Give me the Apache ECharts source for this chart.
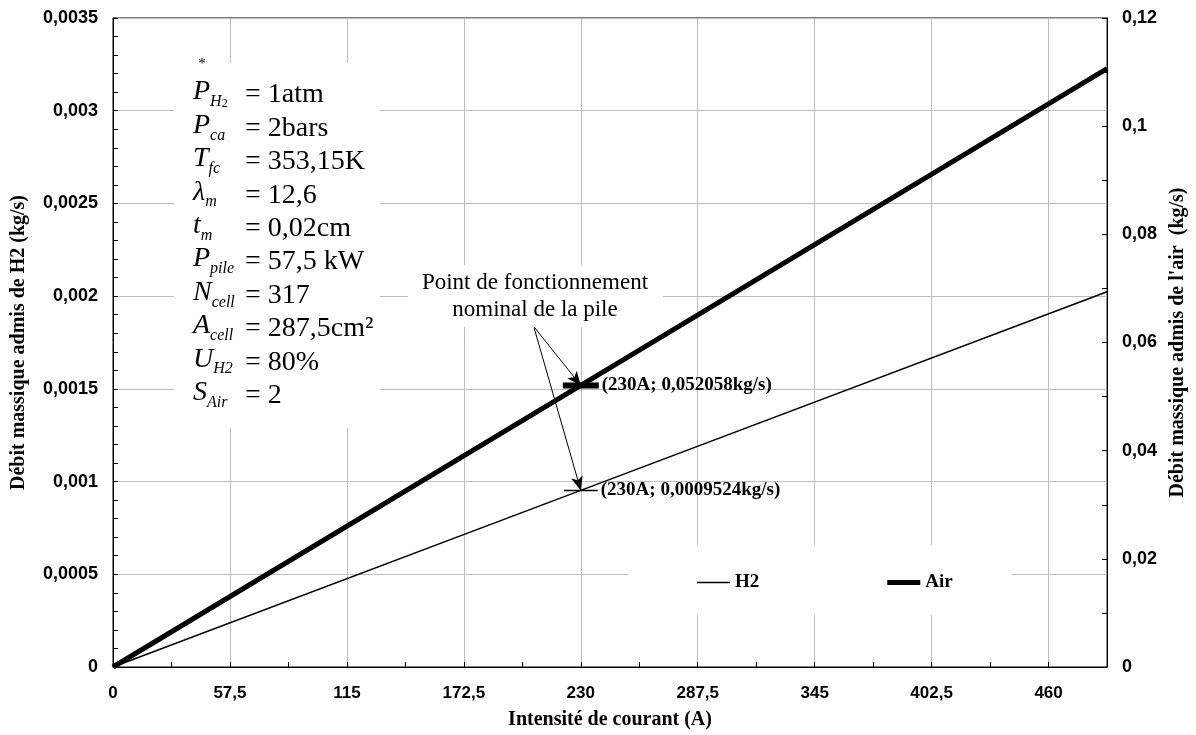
<!DOCTYPE html>
<html><head><meta charset="utf-8">
<script src="https://cdn.jsdelivr.net/npm/echarts@6/dist/echarts.min.js"></script>
<style>html,body{margin:0;padding:0;background:#fff}#c{width:1196px;height:735px}</style>
</head><body><div id="c"></div>
<script>
// ---- data ----
const current = [0, 230, 488.75];            // Intensité de courant (A)
const h2Flow = [0, 0.0009524, 0.0020239];    // kg/s (left axis)
const airFlow = [0, 0.052058, 0.11062];      // kg/s (right axis)
const xInterval = 57.5;
const xMax = 488.75;
const nominalIndex = 1;
const arrowStart = [207, 0.00183, 0.0629];   // annotation anchor (x, yLeft, yRight)

const paramSymbols = [['P','H','2'], ['P','ca'], ['T','fc'], ['λ','m'], ['t','m'], ['P','pile'], ['N','cell'], ['A','cell'], ['U','H2'], ['S','Air']];
const paramValues = ['= 1atm', '= 2bars', '= 353,15K', '= 12,6', '= 0,02cm', '= 57,5 kW', '= 317', '= 287,5cm²', '= 80%', '= 2'];

// ---- helpers ----
const serif = "'Liberation Serif','Times New Roman',serif";
const sans = "'Liberation Sans',Arial,sans-serif";
const comma = v => String(+(+v).toPrecision(10)).replace('.', ',');
const ctx = document.createElement('canvas').getContext('2d');
const measure = (t, font) => { ctx.font = font; return ctx.measureText(t).width; };

const chart = echarts.init(document.getElementById('c'));

const MAIN = 28, SUB = 16, SUB2 = 12;
const graphics = [
  {type:'rect', z:1, shape:{x:174, y:63, width:206, height:365}, style:{fill:'#fff'}},
  {type:'rect', z:1, shape:{x:408, y:265, width:255, height:62}, style:{fill:'#fff'}},
  {type:'rect', z:1, shape:{x:628, y:545, width:384, height:70}, style:{fill:'#fff'}},
  {type:'text', z:3, x:535, y:296, style:{text:'Point de fonctionnement\nnominal de la pile', align:'center', verticalAlign:'middle', fontFamily:serif, fontSize:23, lineHeight:27, fill:'#000'}},
  {type:'text', z:3, x:202, y:64, style:{text:'*', align:'center', verticalAlign:'middle', fontFamily:serif, fontSize:15, fill:'#000'}}
];
paramSymbols.forEach((p, i) => {
  const yc = 95 + i * 33.4;
  let txt = '{m|' + p[0] + '}{s|' + p[1] + '}' + (p[2] ? '{t|' + p[2] + '}' : '');
  const w = measure(p[0], 'italic ' + MAIN + 'px ' + serif) + measure(p[1], 'italic ' + SUB + 'px ' + serif) + (p[2] ? measure(p[2], SUB2 + 'px ' + serif) : 0);
  graphics.push({type:'text', z:3, x:193, y:yc, style:{
    text: txt, align:'left', verticalAlign:'middle', fill:'#000',
    rich:{
      m:{fontFamily:serif, fontStyle:'italic', fontSize:MAIN, lineHeight:30, verticalAlign:'bottom', padding:[0,0,4,0], fill:'#000'},
      s:{fontFamily:serif, fontStyle:'italic', fontSize:SUB, lineHeight:30, verticalAlign:'bottom', fill:'#000'},
      t:{fontFamily:serif, fontSize:SUB2, lineHeight:30, verticalAlign:'bottom', fill:'#000'}
    }}});
  graphics.push({type:'text', z:3, x:Math.max(245, 193 + w + 3), y:yc, style:{text: paramValues[i], align:'left', verticalAlign:'middle', fontFamily:serif, fontSize:MAIN, fill:'#000'}});
});

const pointLabel = {show:true, position:'right', distance:3, color:'#000', fontFamily:serif, fontWeight:'bold', fontSize:19};

chart.setOption({
  animation:false,
  backgroundColor:'#fff',
  grid:{left:113, right:88, top:18, bottom:68, show:true, borderColor:'#000', borderWidth:1, backgroundColor:'transparent'},
  legend:{left:692, top:568, itemWidth:33, itemHeight:14, itemGap:128, symbolKeepAspect:true,
    data:[{name:'H2', icon:'path://M0,0h66v3h-66z'}, {name:'Air', icon:'path://M0,0h33v5h-33z'}],
    textStyle:{fontFamily:serif, fontWeight:'bold', fontSize:19, color:'#000'}},
  xAxis:{type:'value', min:0, max:xMax, interval:xInterval,
    name:'Intensité de courant (A)', nameLocation:'middle', nameGap:43,
    nameTextStyle:{fontFamily:serif, fontWeight:'bold', fontSize:20, color:'#000'},
    axisLine:{show:true, lineStyle:{color:'#000', width:1}},
    axisTick:{show:true, inside:true, length:5, lineStyle:{color:'#000'}},
    minorTick:{show:true, splitNumber:2, length:5, lineStyle:{color:'#000'}},
    splitLine:{show:true, lineStyle:{color:'#bdbdbd', width:1}},
    axisLabel:{margin:18, color:'#000', fontFamily:sans, fontWeight:'bold', fontSize:17,
      formatter:v => Math.abs(v/xInterval - Math.round(v/xInterval)) < 1e-6 ? comma(v) : ''}},
  yAxis:[
    {type:'value', min:0, max:0.0035, interval:0.0005, position:'left',
      name:'Débit massique admis de H2 (kg/s)', nameLocation:'middle', nameGap:84,
      nameTextStyle:{fontFamily:serif, fontWeight:'bold', fontSize:20, color:'#000'},
      axisLine:{show:true, lineStyle:{color:'#000'}},
      axisTick:{show:true, inside:true, length:5, lineStyle:{color:'#000'}},
      minorTick:{show:true, splitNumber:5, length:5, lineStyle:{color:'#000'}},
      splitLine:{show:true, lineStyle:{color:'#bdbdbd', width:1}},
      axisLabel:{margin:15, color:'#000', fontFamily:sans, fontWeight:'bold', fontSize:18, formatter:v => comma(v)}},
    {type:'value', min:0, max:0.12, interval:0.02, position:'right',
      name:"Débit massique admis de l'air  (kg/s)", nameLocation:'middle', nameGap:60,
      nameTextStyle:{fontFamily:serif, fontWeight:'bold', fontSize:20, color:'#000'},
      axisLine:{show:true, lineStyle:{color:'#000'}},
      axisTick:{show:true, inside:true, length:5, lineStyle:{color:'#000'}},
      minorTick:{show:true, splitNumber:2, length:5, lineStyle:{color:'#000'}},
      splitLine:{show:false},
      axisLabel:{margin:15, color:'#000', fontFamily:sans, fontWeight:'bold', fontSize:18, formatter:v => comma(v)}}
  ],
  graphic: graphics,
  series:[
    {name:'H2', type:'line', yAxisIndex:0, z:4, symbol:'none', data: current.map((x,i)=>[x, h2Flow[i]]),
      lineStyle:{color:'#000', width:1.5}, itemStyle:{color:'#000'},
      markPoint:{symbol:'rect', symbolSize:[34,1.5], itemStyle:{color:'#000'}, label:pointLabel,
        data:[{coord:[current[nominalIndex], h2Flow[nominalIndex]], value:'', label:{formatter:'(' + current[nominalIndex] + 'A; ' + comma(h2Flow[nominalIndex]) + 'kg/s)'}}]},
      markLine:{silent:true, symbol:['none','arrow'], symbolSize:[9,14], lineStyle:{color:'#000', width:1, type:'solid'}, label:{show:false},
        data:[[{coord:[arrowStart[0], arrowStart[1]]}, {coord:[current[nominalIndex], h2Flow[nominalIndex]]}]]}},
    {name:'Air', type:'line', yAxisIndex:1, z:4, symbol:'none', data: current.map((x,i)=>[x, airFlow[i]]),
      lineStyle:{color:'#000', width:5}, itemStyle:{color:'#000'},
      markPoint:{symbol:'rect', symbolSize:[36,6], itemStyle:{color:'#000'}, label:pointLabel,
        data:[{coord:[current[nominalIndex], airFlow[nominalIndex]], value:'', label:{formatter:'(' + current[nominalIndex] + 'A; ' + comma(airFlow[nominalIndex]) + 'kg/s)'}}]},
      markLine:{silent:true, symbol:['none','arrow'], symbolSize:[9,14], lineStyle:{color:'#000', width:1, type:'solid'}, label:{show:false},
        data:[[{coord:[arrowStart[0], arrowStart[2]]}, {coord:[current[nominalIndex], airFlow[nominalIndex]]}]]}}
  ]
});
</script></body></html>
